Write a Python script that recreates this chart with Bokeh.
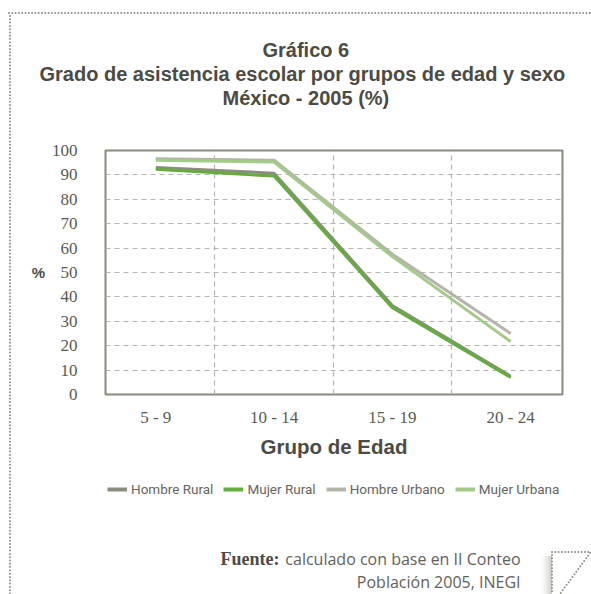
from urllib.parse import quote
from bokeh.plotting import figure
from bokeh.layouts import column
from bokeh.models import Range1d, FixedTicker, Legend, LegendItem, Label, Title
from bokeh.embed import file_html
from bokeh.resources import INLINE

# ---------------- data ----------------
categories = ["5 - 9", "10 - 14", "15 - 19", "20 - 24"]
hombre_rural = [93.0, 90.7, 36.5, 7.5]
mujer_rural = [92.3, 89.5, 35.6, 7.0]
hombre_urbano = [96.6, 96.0, 57.5, 25.0]
mujer_urbana = [96.0, 95.3, 56.5, 21.7]
series_names = ["Hombre Rural", "Mujer Rural", "Hombre Urbano", "Mujer Urbana"]
series_colors = ["#8c8c82", "#62ad3b", "#b4b4ac", "#a2cb88"]
y_ticks = [0, 10, 20, 30, 40, 50, 60, 70, 80, 90, 100]

title_lines = ["Gráfico 6",
               "Grado de asistencia escolar por grupos de edad y sexo",
               "México - 2005 (%)"]
source_label = "Fuente:"
source_lines = ["calculado con base en II Conteo", "Población 2005, INEGI"]

TEXT = "#4b4b43"
GRID = "#b5b5b0"
DOT = "#8e8e86"
SRC = "#62625a"

W = 591
H_MID, H_BOT = 466, 128
FRAME_LEFT = 105

x_pos = list(range(len(categories)))
series_values = [hombre_rural, mujer_rural, hombre_urbano, mujer_urbana]

# ---------------- chart (with title lines above) ----------------
p = figure(width=W, height=H_MID, output_backend="svg", toolbar_location=None,
           x_range=Range1d(-0.425, 3.438), y_range=Range1d(0, 100),
           min_border_left=FRAME_LEFT, min_border_right=29, min_border_top=150,
           min_border_bottom=72, title_location=None)
p.outline_line_color = "#8a8a7e"
p.outline_line_width = 2
p.background_fill_color = "white"
p.border_fill_color = None

p.xgrid.ticker = FixedTicker(ticks=[0.5, 1.5, 2.5])
p.xgrid.grid_line_color = GRID
p.xgrid.grid_line_dash = "5 4"
p.xgrid.grid_line_width = 1.2
p.ygrid.ticker = FixedTicker(ticks=y_ticks[1:-1])
p.ygrid.grid_line_color = GRID
p.ygrid.grid_line_dash = "5 4"
p.ygrid.grid_line_width = 1.2

xa = p.xaxis[0]
xa.ticker = FixedTicker(ticks=x_pos)
xa.major_label_overrides = {i: c for i, c in zip(x_pos, categories)}
xa.axis_line_color = None
xa.major_tick_line_color = None
xa.minor_tick_line_color = None
xa.major_label_standoff = 7
xa.major_label_text_font = "Liberation Serif"
xa.major_label_text_font_size = "17px"
xa.major_label_text_color = "#5a5a52"
xa.axis_label = "Grupo de Edad"
xa.axis_label_text_font = "Liberation Sans"
xa.axis_label_text_font_style = "bold"
xa.axis_label_text_font_size = "20.5px"
xa.axis_label_text_color = TEXT
xa.axis_label_standoff = 5

ya = p.yaxis[0]
ya.ticker = FixedTicker(ticks=y_ticks)
ya.axis_line_color = None
ya.major_tick_line_color = None
ya.minor_tick_line_color = None
ya.major_label_standoff = 22
ya.major_label_text_font = "Liberation Serif"
ya.major_label_text_font_size = "17px"
ya.major_label_text_color = "#5a5a52"
ya.axis_label = "%"
ya.axis_label_orientation = "horizontal"
ya.axis_label_text_font = "Liberation Sans"
ya.axis_label_text_font_style = "bold"
ya.axis_label_text_font_size = "15px"
ya.axis_label_text_color = TEXT
ya.axis_label_standoff = 4

for vals, col in zip(series_values, series_colors):
    p.line(x_pos, vals, line_color=col, line_width=3)

# title lines, stacked from the frame outward: spacer, line 3, line 2, line 1
p.add_layout(Title(text=" ", text_font_size="1px", standoff=39), "above")
for line, off in zip(reversed(title_lines), [117, -66, 157]):
    p.add_layout(Title(text=line, align="left", offset=off, standoff=0,
                       text_font="Liberation Sans", text_font_style="bold",
                       text_font_size="20px", text_color=TEXT), "above")

# ---------------- legend + source block ----------------
pbot = figure(width=W, height=H_BOT, output_backend="svg", toolbar_location=None,
              x_range=Range1d(0, 1), y_range=Range1d(0, 1),
              x_axis_type=None, y_axis_type=None, title_location=None,
              min_border_left=FRAME_LEFT, min_border_right=29,
              min_border_top=0, min_border_bottom=0)
pbot.outline_line_color = None
pbot.background_fill_color = None
pbot.border_fill_color = None

items = []
for name, vals, col in zip(series_names, series_values, series_colors):
    # legend proxies: same series, lying outside this block's view
    r = pbot.line(x_pos, vals, line_color=col, line_width=4)
    items.append(LegendItem(label=name, renderers=[r]))

legend = Legend(items=items, orientation="horizontal", location=(2, 95),
                glyph_width=20, glyph_height=20, label_standoff=4, spacing=10,
                padding=0, margin=0, border_line_color=None,
                background_fill_alpha=0,
                label_text_font="Roboto", label_text_font_size="13.5px",
                label_text_color="#65655d")
pbot.add_layout(legend, "center")

pbot.add_layout(Label(x=279 - FRAME_LEFT, y=36, x_units="screen", y_units="screen",
                      text=source_label, text_align="right", text_baseline="alphabetic",
                      text_font="Liberation Serif", text_font_style="bold",
                      text_font_size="18px", text_color=TEXT))
pbot.add_layout(Label(x=520 - FRAME_LEFT, y=36, x_units="screen", y_units="screen",
                      text=source_lines[0], text_align="right", text_baseline="alphabetic",
                      text_font="Open Sans", text_font_size="16px", text_color=SRC))
pbot.add_layout(Label(x=520 - FRAME_LEFT, y=13, x_units="screen", y_units="screen",
                      text=source_lines[1], text_align="right", text_baseline="alphabetic",
                      text_font="Open Sans", text_font_size="16px", text_color=SRC))

# page decoration (dotted frame and folded corner) as background of the page block
deco = (
    "<svg xmlns='http://www.w3.org/2000/svg' width='591' height='594'>"
    "<defs><linearGradient id='g' x1='0' x2='1' y1='0' y2='0'>"
    "<stop offset='0' stop-color='#ffffff' stop-opacity='0'/>"
    "<stop offset='1' stop-color='#c8c8c4'/></linearGradient></defs>"
    "<rect x='538' y='556' width='14' height='38' fill='url(#g)'/>"
    f"<g stroke='{DOT}' stroke-width='2' stroke-linecap='round' stroke-dasharray='0 3.3' fill='none'>"
    "<line x1='9' y1='13' x2='591' y2='13'/>"
    "<line x1='10' y1='16' x2='10' y2='594'/>"
    "<line x1='552' y1='552' x2='591' y2='552'/>"
    "<line x1='552' y1='555' x2='552' y2='594'/>"
    "<line x1='590' y1='553' x2='560' y2='594'/>"
    "</g></svg>"
)
page = column(p, pbot, spacing=0,
              styles={"background-image": f'url("data:image/svg+xml;utf8,{quote(deco)}")',
                      "background-repeat": "no-repeat",
                      "background-color": "white"})

open("out.html", "w").write(file_html(page, INLINE))
